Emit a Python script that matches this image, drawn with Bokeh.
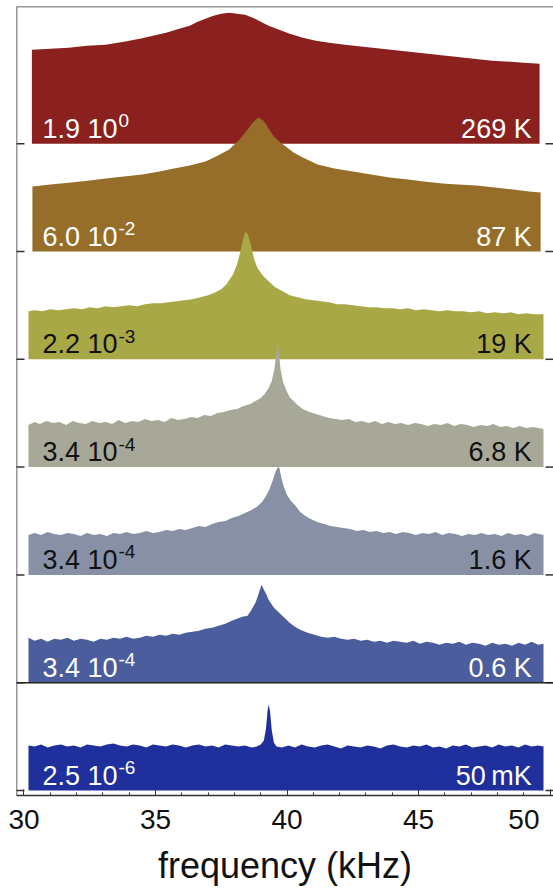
from bokeh.plotting import figure
from bokeh.models import Range1d, FixedTicker, Span
from bokeh.core.properties import value
from bokeh.embed import file_html
from bokeh.resources import INLINE

# Noise spectra, frequency in kHz, amplitude in arbitrary units (one panel = 107.8)
f_269K = [30.3, 31.0, 31.7, 32.4, 33.1, 33.8, 34.4, 34.9, 35.4, 35.9, 36.3, 36.6, 36.9,
          37.2, 37.5, 37.8, 38.1, 38.4, 38.7, 39.0, 39.3, 39.7, 40.1, 40.6, 41.1, 41.6,
          42.2, 42.9, 43.6, 44.3, 45.0, 45.7, 46.4, 47.1, 47.8, 48.5, 49.0, 49.6]
a_269K = [94, 95, 96, 98, 99, 102, 105, 108, 111, 115, 118, 122, 125,
          128, 130, 131, 130, 129, 126, 122, 118, 114, 110, 106, 103, 101,
          99, 97, 95, 93, 91, 89, 87, 85, 83, 82, 81, 80]

f_87K = [30.32, 31.0, 31.8, 32.5, 33.1, 33.8, 34.5, 35.15, 35.7, 36.3, 36.9, 37.3, 37.8,
         38.2, 38.5, 38.7, 38.9, 39.1, 39.3, 39.5, 39.7, 40.0, 40.25, 40.6, 41.16, 41.8,
         42.5, 43.2, 43.9, 44.6, 45.2, 45.9, 46.5, 47.2, 47.9, 48.6, 49.2, 49.64]
a_87K = [65, 67, 69, 71, 73, 75, 77, 80, 83, 86, 90, 95, 102,
         112, 122, 129, 134, 131, 123, 115, 110, 104, 99, 94, 87, 83,
         80, 77, 74, 72, 70, 68, 67, 66, 64, 62, 60, 59]

f_19K = [30.17, 30.4, 30.7, 31.0, 31.3, 31.6, 31.9, 32.2, 32.5, 32.8, 33.1, 33.4, 33.7,
         34.0, 34.3, 34.6, 34.9, 35.2, 35.5, 35.8, 36.1, 36.4, 36.7, 37.0, 37.2, 37.5,
         37.7, 37.95, 38.1, 38.23, 38.33, 38.42, 38.52, 38.61, 38.75, 38.88, 39.1, 39.3,
         39.55, 39.83, 40.1, 40.4, 40.7, 41.0, 41.3, 41.6, 41.9, 42.2, 42.5, 42.8, 43.1,
         43.4, 43.7, 44.0, 44.3, 44.6, 44.9, 45.2, 45.5, 45.8, 46.1, 46.4, 46.7, 47.0,
         47.3, 47.6, 47.9, 48.2, 48.5, 48.8, 49.1, 49.4, 49.75]
a_19K = [48, 49, 48, 50, 49, 50, 51, 50, 52, 51, 53, 52, 53,
         54, 53, 55, 56, 56, 57, 58, 59, 60, 62, 64, 66, 70,
         75, 85, 95, 108, 120, 128, 124, 116, 100, 91, 83, 78,
         72, 68, 64, 62, 60, 59, 58, 57, 55, 55, 54, 53, 52,
         52, 51, 51, 50, 51, 49, 50, 49, 48, 49, 48, 48, 47,
         48, 46, 47, 46, 47, 45, 46, 45, 45]

f_6K8 = [30.17, 30.4, 30.6, 30.85, 31.1, 31.35, 31.6, 31.85, 32.1, 32.35, 32.6, 32.85,
         33.1, 33.35, 33.6, 33.85, 34.1, 34.35, 34.6, 34.85, 35.1, 35.35, 35.6, 35.85,
         36.1, 36.35, 36.6, 36.85, 37.1, 37.35, 37.6, 37.85, 38.1, 38.35, 38.6, 38.8,
         39.0, 39.15, 39.3, 39.42, 39.52, 39.6, 39.64, 39.68, 39.75, 39.85, 39.98, 40.1,
         40.25, 40.4, 40.6, 40.85, 41.1, 41.35, 41.6, 41.85, 42.1, 42.35, 42.6, 42.85,
         43.1, 43.35, 43.6, 43.85, 44.1, 44.35, 44.6, 44.85, 45.1, 45.35, 45.6, 45.85,
         46.1, 46.35, 46.6, 46.85, 47.1, 47.35, 47.6, 47.85, 48.1, 48.35, 48.6, 48.85,
         49.1, 49.35, 49.75]
a_6K8 = [42, 45, 43, 46, 44, 45, 42, 46, 44, 43, 46, 44,
         45, 43, 47, 44, 46, 45, 48, 46, 47, 45, 49, 47,
         48, 50, 49, 52, 51, 54, 55, 57, 58, 61, 63, 66,
         69, 73, 79, 86, 98, 115, 125, 118, 98, 85, 76, 70,
         66, 62, 58, 55, 53, 51, 49, 48, 47, 48, 45, 46,
         44, 46, 43, 45, 43, 44, 42, 44, 43, 41, 43, 42,
         44, 41, 43, 42, 40, 42, 41, 43, 40, 41, 39, 41,
         39, 40, 38]

f_1K6 = [30.17, 30.4, 30.65, 30.9, 31.15, 31.4, 31.65, 31.9, 32.15, 32.4, 32.65, 32.9,
         33.15, 33.4, 33.65, 33.9, 34.15, 34.4, 34.65, 34.9, 35.15, 35.4, 35.65, 35.9,
         36.15, 36.4, 36.65, 36.9, 37.15, 37.4, 37.65, 37.9, 38.15, 38.4, 38.65, 38.85,
         39.05, 39.2, 39.32, 39.45, 39.56, 39.65, 39.71, 39.78, 39.88, 40.0, 40.15, 40.3,
         40.5, 40.7, 40.9, 41.15, 41.4, 41.65, 41.9, 42.15, 42.4, 42.65, 42.9, 43.15,
         43.4, 43.65, 43.9, 44.15, 44.4, 44.65, 44.9, 45.15, 45.4, 45.65, 45.9, 46.15,
         46.4, 46.65, 46.9, 47.15, 47.4, 47.65, 47.9, 48.15, 48.4, 48.65, 48.9, 49.15,
         49.4, 49.75]
a_1K6 = [40, 42, 40, 43, 41, 40, 42, 41, 39, 42, 40, 41,
         39, 42, 41, 43, 41, 42, 44, 42, 43, 45, 44, 46,
         45, 47, 49, 48, 51, 53, 54, 57, 59, 62, 65, 68,
         73, 79, 85, 94, 103, 108, 107, 98, 88, 80, 74, 70,
         63, 59, 56, 53, 51, 49, 48, 47, 46, 44, 45, 43,
         44, 42, 43, 41, 43, 42, 40, 42, 41, 43, 40, 42,
         41, 39, 41, 40, 42, 40, 41, 39, 42, 40, 41, 39,
         42, 40]

f_0K6 = [30.17, 30.4, 30.65, 30.9, 31.15, 31.4, 31.65, 31.9, 32.15, 32.4, 32.65, 32.9,
         33.15, 33.4, 33.65, 33.9, 34.15, 34.4, 34.65, 34.9, 35.15, 35.4, 35.65, 35.9,
         36.15, 36.4, 36.65, 36.9, 37.15, 37.4, 37.65, 37.9, 38.1, 38.3, 38.5, 38.65,
         38.8, 38.92, 39.03, 39.12, 39.22, 39.3, 39.5, 39.7, 39.9, 40.1, 40.3, 40.5,
         40.78, 41.05, 41.3, 41.55, 41.8, 42.05, 42.3, 42.55, 42.8, 43.05, 43.3, 43.55,
         43.8, 44.05, 44.3, 44.55, 44.8, 45.05, 45.3, 45.55, 45.8, 46.05, 46.3, 46.55,
         46.8, 47.05, 47.3, 47.55, 47.8, 48.05, 48.3, 48.55, 48.8, 49.05, 49.3, 49.55,
         49.75]
a_0K6 = [45, 42, 44, 41, 44, 43, 45, 42, 44, 43, 41, 44,
         43, 45, 44, 46, 44, 45, 47, 46, 48, 47, 49, 48,
         50, 51, 52, 54, 55, 57, 59, 62, 64, 66, 67, 73,
         80, 89, 98, 93, 88, 83, 75, 70, 65, 60, 56, 53,
         50, 48, 46, 45, 46, 44, 43, 44, 42, 43, 41, 42,
         40, 42, 41, 40, 42, 39, 41, 40, 38, 40, 39, 41,
         38, 40, 39, 37, 40, 38, 39, 37, 40, 38, 41, 38,
         39]

f_50mK = [30.17, 30.4, 30.65, 30.9, 31.15, 31.4, 31.65, 31.9, 32.15, 32.4, 32.65, 32.9,
          33.15, 33.4, 33.65, 33.9, 34.15, 34.4, 34.65, 34.9, 35.15, 35.4, 35.65, 35.9,
          36.15, 36.4, 36.65, 36.9, 37.15, 37.4, 37.65, 37.9, 38.15, 38.4, 38.65, 38.85,
          39.0, 39.12, 39.2, 39.26, 39.3, 39.35, 39.42, 39.5, 39.6, 39.8, 40.05, 40.3,
          40.55, 40.8, 41.05, 41.3, 41.55, 41.8, 42.05, 42.3, 42.55, 42.8, 43.05, 43.3,
          43.55, 43.8, 44.05, 44.3, 44.55, 44.8, 45.05, 45.3, 45.55, 45.8, 46.05, 46.3,
          46.55, 46.8, 47.05, 47.3, 47.55, 47.8, 48.05, 48.3, 48.55, 48.8, 49.05, 49.3,
          49.55, 49.75]
a_50mK = [45, 44, 46, 43, 45, 46, 44, 45, 43, 46, 45, 44,
          46, 47, 45, 44, 46, 45, 43, 46, 45, 44, 46, 45,
          43, 45, 46, 44, 45, 43, 46, 45, 44, 45, 43, 44,
          46, 50, 62, 80, 86, 80, 60, 48, 44, 43, 45, 43,
          46, 44, 43, 45, 46, 44, 42, 45, 44, 43, 45, 44,
          42, 45, 46, 44, 43, 45, 44, 46, 43, 44, 42, 45,
          44, 46, 43, 44, 45, 43, 46, 44, 45, 43, 46, 44,
          45, 44]

# panels from top to bottom
freqs = [f_269K, f_87K, f_19K, f_6K8, f_1K6, f_0K6, f_50mK]
amps = [a_269K, a_87K, a_19K, a_6K8, a_1K6, a_0K6, a_50mK]
temperatures = ["269 K", "87 K", "19 K", "6.8 K", "1.6 K", "0.6 K", "50\u2009mK"]
scale_mantissa = ["1.9 10", "6.0 10", "2.2 10", "3.4 10", "3.4 10", "3.4 10", "2.5 10"]
scale_exponent = ["0", "-2", "-3", "-4", "-4", "-4", "-6"]
fill_colors = ["#8a211f", "#976e29", "#a8a846", "#a8a898", "#8890a6", "#4b5d9c", "#1f2f9b"]
text_colors = ["white", "white", "#111111", "#111111", "#111111", "white", "white"]

x_ticks = [30, 35, 40, 45, 50]
x_minor = list(range(30, 51))

STEP = 107.8
FONT = "Liberation Sans"
AXIS = "#333333"
n = len(freqs)

X0, X1 = 29.715, 50.13
Y0, Y1 = -5, 784

p = figure(width=553, height=893, output_backend="svg", toolbar_location=None,
           x_range=Range1d(X0, X1), y_range=Range1d(Y0, Y1),
           min_border_left=16, min_border_right=0, min_border_top=6, min_border_bottom=98,
           background_fill_color="white", border_fill_color="white")
p.outline_line_color = None
p.xgrid.visible = False
p.ygrid.visible = False
p.yaxis.visible = False

offsets = [(n - 1 - i) * STEP for i in range(n)]

# filled spectra, upper panels first so lower peaks overlap them
for fr, am, off, col in zip(freqs, amps, offsets, fill_colors):
    p.varea(x=fr, y1=[off] * len(fr), y2=[off + a for a in am], fill_color=col)

# separator above the lowest panel
p.add_layout(Span(location=offsets[-2], dimension="width", line_color="#222222", line_width=1.5))

# frame: left and top lines, panel-boundary ticks on both sides
p.add_layout(Span(location=X0, dimension="height", line_color=AXIS, line_width=1.5))
p.add_layout(Span(location=Y1, dimension="width", line_color=AXIS, line_width=1.5))
p.scatter(x=[X0] * n, y=offsets, marker="dash", size=16, line_color=AXIS, line_width=1.5)
p.scatter(x=[X1] * n, y=offsets, marker="dash", size=16, line_color=AXIS, line_width=1.5)

# panel labels: scale factor with exponent, temperature
for i in range(n):
    base = offsets[i] + 15
    p.text(x=[30.7], y=[base], text=[scale_mantissa[i]], text_font=value(FONT),
           text_font_size="27px", text_color=text_colors[i], text_align="left",
           text_baseline="middle")
    p.text(x=[30.7], y=[base], text=[scale_exponent[i]], text_font=value(FONT),
           text_font_size="19px", text_color=text_colors[i], text_align="left",
           text_baseline="middle", x_offset=76, y_offset=-8)
    p.text(x=[49.3], y=[base], text=[temperatures[i]], text_font=value(FONT),
           text_font_size="27px", text_color=text_colors[i], text_align="right",
           text_baseline="middle")

# bottom axis; the last label is kept inside the canvas edge
xa = p.xaxis[0]
xa.ticker = FixedTicker(ticks=x_ticks, minor_ticks=x_minor)
xa.major_label_overrides = {50: "50\u2002"}
xa.axis_line_color = AXIS
xa.axis_line_width = 1.5
xa.major_tick_in = 6
xa.major_tick_out = 0
xa.minor_tick_in = 3
xa.minor_tick_out = 0
xa.major_tick_line_color = AXIS
xa.minor_tick_line_color = AXIS
xa.major_label_text_font = FONT
xa.major_label_text_font_size = "28px"
xa.major_label_text_color = "#111111"
xa.major_label_standoff = 8
xa.axis_label = "frequency (kHz)"
xa.axis_label_text_font = FONT
xa.axis_label_text_font_size = "36px"
xa.axis_label_text_font_style = "normal"
xa.axis_label_text_color = "#111111"
xa.axis_label_standoff = 7

open("out.html", "w").write(file_html(p, INLINE))
